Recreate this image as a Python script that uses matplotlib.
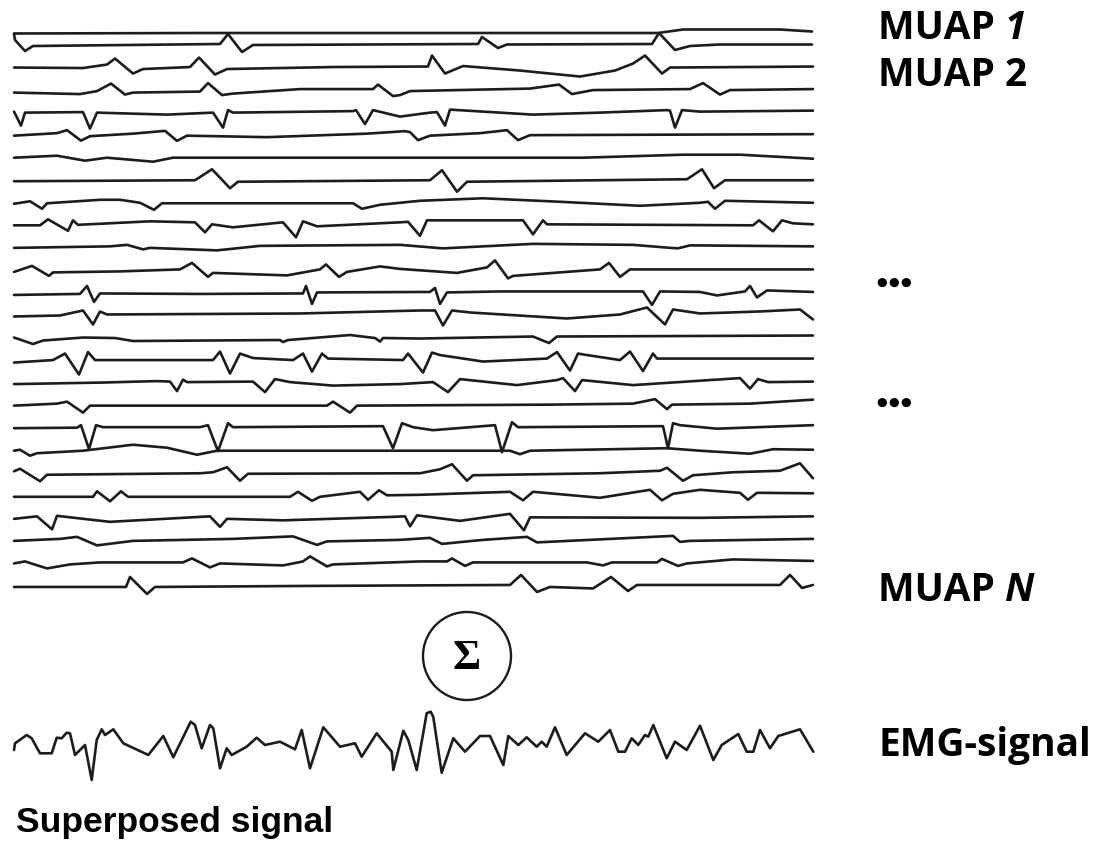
import matplotlib
matplotlib.use("Agg")
import matplotlib.pyplot as plt
from matplotlib.patches import Circle

# ---------------- data: (time, amplitude) vertices ----------------
muap_01 = [(14, 0), (200, 0.5), (658, 0.5), (683, 4), (780, 4), (812, 2)]
muap_02 = [(14, 11), (15, 5), (25, -6), (33, -1), (220, 1), (228, 11), (242, -7), (253, 0),
           (478, 1), (482, 8), (498, -3), (507, 0.5), (652, 1), (659, 12), (675, -5), (690, -1),
           (720, 0.5), (812, 0.5)]
muap_03 = [(14, 0), (83, -0.5), (107, 3), (115, 9), (133, -6), (143, -1.5), (190, 0.5), (199, 10),
           (215, -7), (227, -1.5), (333, 0.5), (420, 1), (428, 1), (432, 12), (445, -6), (463, 1.5),
           (520, -3), (580, -9), (615, -3), (633, 4), (645, 12), (662, -6), (670, 0), (813, 1)]
muap_04 = [(14, -2.5), (80, -4), (97, -1), (111, 6.5), (125, -4.5), (133, -2.5), (200, -1.5),
           (208, 7), (222, -5), (233, -3.5), (300, 1), (373, 1), (378, 5.5), (393, -6), (400, -5),
           (410, -1), (530, 1.5), (559, 5.5), (572, -4), (593, 0), (690, 1), (703, 7), (720, -4.5),
           (730, 0), (813, 1)]
muap_05 = [(14, 1), (21, -13), (25, 0), (83, 0.5), (90, -16), (97, 0), (167, -2), (213, 0),
           (223, -15), (228, 2.5), (233, 0), (353, 1.5), (356, 2.5), (365, -11.5), (373, 2.5),
           (400, -4), (430, 0), (437, 0.5), (445, -13), (450, 3), (533, -2), (600, 0), (667, 2.5),
           (670, 2), (675, -15), (682, 2.5), (700, 1), (813, 2)]
muap_06 = [(14, -0.5), (57, 2), (67, 5), (81, -5.5), (90, -1), (133, 1.5), (165, 4.3), (177, -5.7),
           (187, -0.5), (267, -2), (367, 1.5), (405, 4), (410, 3), (418, -5), (430, -0.5),
           (480, 2), (507, 5), (518, -5), (530, 0), (813, 1)]
muap_07 = [(14, 0), (57, 2), (85, -3), (107, 0), (153, -4), (173, 0), (583, 0), (683, 3),
           (740, 3), (813, -1)]
muap_08 = [(14, -1), (195, 0), (212, 11), (230, -8), (238, -1.5), (430, 0), (442, 10),
           (457, -11.5), (467, -1.5), (687, 1), (702, 11), (714, -8), (725, 0), (813, 0)]
muap_09 = [(14, -1), (30, 1.5), (42, -6), (47, -0.5), (100, 3), (120, 3), (140, 0), (154, -7),
           (162, -0.5), (353, -0.5), (362, -6), (380, -2), (420, 2), (483, 4.5), (560, 1),
           (640, -3), (700, 0), (708, 1), (715, -6), (725, 2), (813, 0)]
muap_10 = [(14, 0), (40, 0), (48, 6), (68, -5.5), (73, 5), (78, 0.5), (150, 4), (195, 3),
           (205, -7), (212, 1), (233, -2), (283, 3), (296, -12), (303, 4), (317, -1), (400, 3),
           (408, 3.5), (420, -10.5), (427, 5), (523, 5), (533, -9), (543, 5), (547, 1), (753, 0),
           (759, 5), (773, -6), (782, 5), (793, 2), (813, 1)]
muap_11 = [(14, 0), (110, 1.5), (127, 3), (143, -1.5), (150, 0), (217, -2.5), (260, 2), (400, 3),
           (443, -0.5), (533, 4), (633, 3), (670, 0), (678, -0.5), (690, 2.5), (813, 1.5)]
muap_12 = [(14, -1.5), (32, 4.5), (49, -5.5), (53, -2), (120, -1), (180, 1), (192, 7.5),
           (208, -6.5), (213, -2.5), (287, -5), (320, 1), (326, 6), (339, -6.5), (347, -1.5),
           (380, 4), (400, 1.5), (457, -2.5), (487, 3), (495, 10), (508, -8), (513, -5.5),
           (600, 1), (609, 7.5), (620, -6.5), (630, 1), (813, 1)]
muap_13 = [(14, -2), (80, -1), (87, 7), (94, -9), (100, -0.5), (200, -1), (303, -0.5), (306, 7),
           (312, -11), (317, 0.5), (430, 1), (435, 5), (440, -11), (447, 0.5), (500, 1.5),
           (643, 1.5), (652, -12), (660, 1.5), (700, 1), (717, -2.5), (745, 1.5), (750, 7),
           (757, -4.5), (767, 2.5), (813, 1)]
muap_14 = [(14, -1), (60, 0), (83, 5), (93, -9), (100, 4), (107, 1), (300, 2), (420, 5),
           (435, 5), (443, -10), (452, 5), (470, 3), (567, -3), (620, 1), (647, 8), (665, -9),
           (673, 6), (700, 2), (760, 4), (800, 6), (813, -4)]
muap_15 = [(14, 0.5), (33, -6), (43, -2.5), (83, 0.5), (115, 0), (133, -3), (280, -2), (283, -4),
           (288, -2), (350, 3), (375, 0), (380, -3.5), (383, 0), (420, -0.5), (533, 1.5),
           (549, -5), (557, 1.5), (813, 2.5)]
muap_16 = [(14, -2), (53, 0.5), (65, 7), (79, -14), (88, 8.5), (95, 0.5), (213, 0.5), (220, 9),
           (230, -13), (240, 7), (253, 2.5), (293, 0.5), (303, 7), (312, -11), (322, 7), (328, 2),
           (403, 0.5), (408, 7), (423, -12), (432, 8), (440, 5.5), (483, -1), (547, 2), (557, 8.5),
           (570, -10), (578, 7), (587, 5.5), (620, 0.5), (630, 9), (643, -10.5), (653, 7),
           (657, 2), (813, 2)]
muap_17 = [(14, -1), (100, 0.5), (157, 2), (170, 1.5), (177, -8), (183, 3.5), (187, 1),
           (253, 1.5), (265, -9), (275, 4), (290, 1), (333, -2.5), (400, -1), (433, 1), (448, -9),
           (460, 4), (517, -2), (557, 3), (563, 5), (575, -8), (582, 3), (633, -2), (740, 5),
           (750, -5.5), (758, 4), (768, 1), (813, 1.5)]
muap_18 = [(14, 0), (57, 2), (67, 4), (83, -7), (90, 0), (327, 0), (333, 4), (350, -7), (357, 0),
           (550, 1), (633, 2), (655, 6.5), (667, -3.5), (672, 1), (750, 2), (813, 6)]
muap_19 = [(14, 0), (77, 0.5), (81, 3), (89, -21), (96, 3), (103, 1), (200, 1), (208, 3),
           (218, -23), (228, 5), (233, 1), (380, 2), (383, 2), (393, -20), (402, 5), (413, 1),
           (433, -2), (495, 3), (502, -24), (512, 6), (518, 1), (663, 2), (668, -20), (673, 5),
           (680, 3), (717, -0.5), (813, 3)]
muap_20 = [(14, 0), (20, 1), (30, -5), (37, -2.5), (83, 0), (133, 6), (167, 3), (197, -4),
           (217, 0), (510, 0), (520, -3.5), (530, 0), (667, 2.5), (700, 0), (750, -3),
           (773, 1.5), (813, 1)]
muap_21 = [(14, 2), (20, 4.5), (40, -8), (47, -1.5), (200, 0), (213, 1), (227, 6), (240, -7.5),
           (248, -0.5), (420, 0), (440, 4), (452, 9), (467, -7.5), (473, -2), (600, 0),
           (660, 2.5), (667, 5.5), (683, -7.5), (693, -2), (733, 1), (780, 2.5), (800, 10),
           (813, -5)]
muap_22 = [(14, -1), (93, -1), (97, 4.5), (110, -5.5), (121, 4.5), (128, -1), (290, -1), (298, 4),
           (312, -5), (320, -1), (360, 4), (368, -4), (379, 5.5), (387, 0.5), (420, 1), (510, 4),
           (523, -4.5), (533, 4), (600, -2), (650, 6), (662, -4.5), (673, 2), (700, 6), (740, 3),
           (748, -4), (757, 3), (813, 2.5)]
muap_23 = [(14, -0.5), (37, 2), (52, -11), (57, 2.5), (110, -3.5), (210, 2), (220, -8.5),
           (227, -0.5), (283, -2), (393, 1.5), (405, 2), (410, -8), (417, 3), (460, -2.5),
           (510, 4.5), (524, -12), (530, 1), (700, 0.5), (813, 2)]
muap_24 = [(14, 0), (60, 2), (77, 4), (97, -4.5), (133, 0), (233, 2), (293, 4.5), (317, -4),
           (327, -0.5), (400, 1), (430, 3), (442, -3), (483, 1), (527, 4), (537, -1.5),
           (600, 1.5), (673, 5), (680, -1), (690, 0), (813, 2)]
muap_25 = [(14, 0), (25, 2), (47, -5), (70, -1), (100, 1), (183, 1), (192, 5), (210, -4),
           (220, 0), (283, -2), (303, 2), (310, 7), (327, -3), (333, -1), (420, 2), (447, 2),
           (452, 5), (465, -2.5), (473, 1), (587, 1), (603, -2), (612, 1), (657, 1), (662, 4.5),
           (678, -2.5), (687, 0), (733, 4), (813, 2.5)]
muap_26 = [(14, -1), (126, -1), (130, 9), (147, -8), (155, -1), (300, 0), (510, 1), (521, 11),
           (537, -6), (550, -1), (593, -2.5), (611, 9), (628, -5), (637, 1), (780, 1), (790, 11),
           (802, -2), (813, 1)]

emg_signal = [(14, -5), (15, 1.7), (26.7, 10), (31.7, 6.7), (40, -8.3), (51.7, -8.3), (56.7, 7.3),
              (61.7, 6.7), (66.7, 12.3), (70, 11.7), (75, -10), (85, 0), (91.7, -35), (96.7, 5),
              (101.7, 15.7), (105, 10), (113.3, 15.7), (123.3, 1.7), (148.3, -10), (163.3, 9),
              (173.3, -12.3), (190.7, 23.3), (195, 20), (201.7, -3.3), (210, 20), (213.3, 16.7),
              (220, -23.3), (226.7, -3.3), (231.7, -10), (246.7, -1.7), (256.7, 7.3), (265, 0),
              (280, 3.3), (295, -4.3), (301.7, 15), (310, -23.3), (323.3, 17.7), (340, -1.7),
              (355, 1.7), (361.7, -11.7), (376.7, 11.7), (391.7, -6.7), (393.3, -25),
              (403.3, 14.3), (408.3, 5), (416.7, -25), (426.7, 31.7), (430.7, 33.3),
              (433.3, 28), (441.7, -27.7), (453.3, 6.7), (465, -6.7), (480, 9), (490, 9),
              (503.3, -20), (508.3, 9), (518.3, 0), (526.7, 7.7), (536.7, -1.7), (541.7, 3.3),
              (546.7, -1.7), (555, 17.7), (566.7, -10), (585, 11.7), (598.3, 3.3), (610, 15),
              (618.3, -6.7), (625, -6.7), (631.7, 6.7), (638.3, 0), (645, 10), (648.3, 8.3),
              (653.3, 20), (666.7, -13.3), (675, 3.3), (686.7, -5), (700, 19.3), (713.3, -15),
              (721.7, 0), (738.3, 11), (746.7, -6.7), (753.3, -6.7), (760, 15), (770, -3.3),
              (778.3, 9), (800, 15.7), (813.3, -6.7)]

muap_traces = [muap_01, muap_02, muap_03, muap_04, muap_05, muap_06, muap_07, muap_08, muap_09,
               muap_10, muap_11, muap_12, muap_13, muap_14, muap_15, muap_16, muap_17, muap_18,
               muap_19, muap_20, muap_21, muap_22, muap_23, muap_24, muap_25, muap_26]

label_text = "MUAP "
label_first = "1"
label_second = "2"
label_last = "N"
ellipsis = "\u25CF\u200A\u25CF\u200A\u25CF"
sum_symbol = "\u03A3"
emg_label = "EMG-signal"
footer_label = "Superposed signal"

# ---------------- layout ----------------
W, H, DPI = 1106, 841, 100
fig = plt.figure(figsize=(W / DPI, H / DPI), dpi=DPI)
ax = fig.add_axes([0, 0, 1, 1])
ax.set_xlim(0, W)
ax.set_ylim(H, 0)
ax.axis("off")

ink = "#1c1c1c"
lw = 1.9
baselines = [33.5] + [45 + 22.54 * i for i in range(len(muap_traces) - 1)]

for base, trace in zip(baselines, muap_traces):
    t = [p[0] for p in trace]
    a = [base - p[1] for p in trace]
    ax.plot(t, a, color=ink, lw=lw, solid_joinstyle="round", solid_capstyle="round")

emg_base = 745
ax.plot([p[0] for p in emg_signal], [emg_base - p[1] for p in emg_signal],
        color=ink, lw=lw, solid_joinstyle="round", solid_capstyle="round")

# summation circle
ax.add_patch(Circle((467, 656), 44, fill=False, ec=ink, lw=1.7))
ax.text(467, 659, sum_symbol, ha="center", va="center", fontsize=31,
        family="Liberation Serif", weight="bold", color="black")

# right-hand labels
lab_font = dict(family="Open Sans", weight="bold", fontsize=28, color="black")


def muap_label(y, suffix, italic=True):
    t0 = ax.text(878, y, label_text, ha="left", va="baseline", **lab_font)
    ax.annotate(suffix, xy=(1, 0), xycoords=t0, ha="left", va="bottom",
                style="italic" if italic else "normal", **lab_font)


muap_label(39, label_first, italic=True)
muap_label(86, label_second, italic=False)
muap_label(601, label_last, italic=True)

dots_font = dict(family="DejaVu Sans", fontsize=8.8, color="black")
ax.text(877, 282, ellipsis, ha="left", va="center", **dots_font)
ax.text(877, 402, ellipsis, ha="left", va="center", **dots_font)
ax.text(878, 756, emg_label, ha="left", va="baseline", **lab_font)

ax.text(16, 832, footer_label, ha="left", va="baseline", family="Liberation Sans",
        weight="bold", fontsize=25.5, color="black")

fig.savefig("out.png", dpi=DPI)
